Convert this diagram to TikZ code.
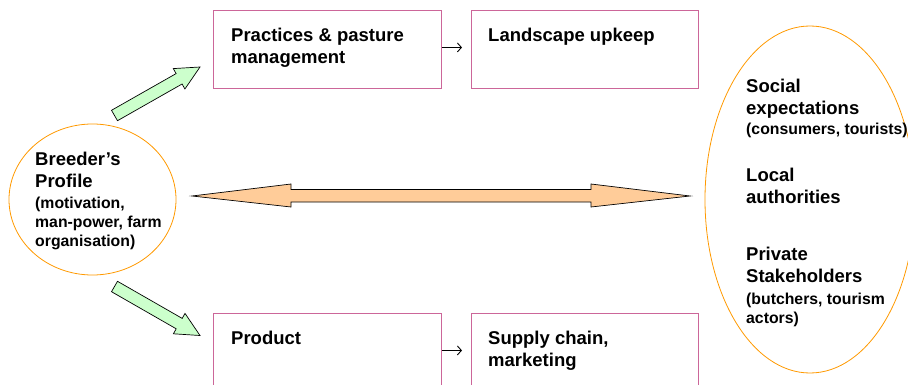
\documentclass[tikz,border=0pt]{standalone}
\usepackage{fontspec}
\setmainfont{Liberation Sans}
\usetikzlibrary{arrows.meta,shapes.geometric}
\definecolor{boxpink}{RGB}{204,102,153}
\definecolor{ringorange}{RGB}{255,153,0}
\definecolor{arrowgreen}{RGB}{204,255,204}
\definecolor{arrowpeach}{RGB}{255,204,153}
\tikzset{
  stagebox/.style={draw=boxpink, line width=0.9pt, rectangle, anchor=north west,
    minimum width=228pt, minimum height=78pt, inner sep=0pt},
  ring/.style={draw=ringorange, line width=0.8pt, ellipse, inner sep=0pt},
  bigtxt/.style={font=\bfseries\fontsize{18.5}{22}\selectfont, align=left,
    anchor=base west, inner sep=0pt},
  smalltxt/.style={font=\bfseries\fontsize{15.8}{19}\selectfont, align=left,
    anchor=base west, inner sep=0pt},
  thinarrow/.style={-{Straight Barb[length=4pt,width=9pt]}, line width=0.9pt}
}
\begin{document}
\begin{tikzpicture}[x=1pt,y=-1pt]
  \useasboundingbox (0,0) rectangle (908,385);
  \clip (0,0) rectangle (908,385);
  %boxes (multi-line texts sit on the baseline of their last line)
  \node[stagebox] (prac) at (213,10) {};
  \node[stagebox, minimum width=227pt] (land) at (471,10) {};
  \node[stagebox] (prod) at (213,313) {};
  \node[stagebox, minimum width=227pt] (supp) at (471,313) {};
  \node[bigtxt] (practxt) at (231,64) {Practices \& pasture\\management};
  \node[bigtxt] (landtxt) at (488,42) {Landscape upkeep};
  \node[bigtxt] (prodtxt) at (231,344) {Product};
  \node[bigtxt] (supptxt) at (488,366) {Supply chain,\\marketing};
  \draw[thinarrow] ([yshift=2pt]prac.east) -- ([xshift=-9pt,yshift=2pt]land.west);
  \draw[thinarrow] ([yshift=2pt]prod.east) -- ([xshift=-9pt,yshift=2pt]supp.west);
  %breeder ellipse
  \node[ring, minimum width=167pt, minimum height=151pt] (breed) at (92.5,199.5) {};
  \node[bigtxt] (breedtxt) at (35,188) {Breeder's\\Profile};
  \node[smalltxt] (breedsub) at (35,246) {(motivation,\\man-power, farm\\organisation)};
  %actors ellipse
  \node[ring, minimum width=210pt, minimum height=347pt] (actors) at (810,199.5) {};
  \node[bigtxt] (soctxt) at (746,115) {Social\\expectations};
  \node[smalltxt] (socsub) at (746,135) {(consumers, tourists)};
  \node[bigtxt] (loctxt) at (746,204) {Local\\authorities};
  \node[bigtxt] (privtxt) at (746,282) {Private\\Stakeholders};
  \node[smalltxt] (privsub) at (746,323) {(butchers, tourism\\actors)};
  %block arrows
  \draw[fill=arrowgreen, line width=0.7pt, line join=miter]
    (111.5,110.3) -- (176.1,73.6) -- (173.3,68.6) -- (200,67)
    -- (184.9,89.0) -- (182.1,84.0) -- (117.5,120.7) -- cycle;
  \draw[fill=arrowgreen, line width=0.7pt, line join=miter]
    (117.5,281.3) -- (182.2,318.4) -- (185.0,313.4) -- (200,335.5)
    -- (173.4,333.8) -- (176.2,328.8) -- (111.5,291.7) -- cycle;
  \draw[fill=arrowpeach, line width=0.7pt, line join=miter]
    (192,196) -- (291,184) -- (291,189.5) -- (591,189.5) -- (591,184)
    -- (690,196) -- (591,207) -- (591,202) -- (291,202) -- (291,207) -- cycle;
\end{tikzpicture}
\end{document}
